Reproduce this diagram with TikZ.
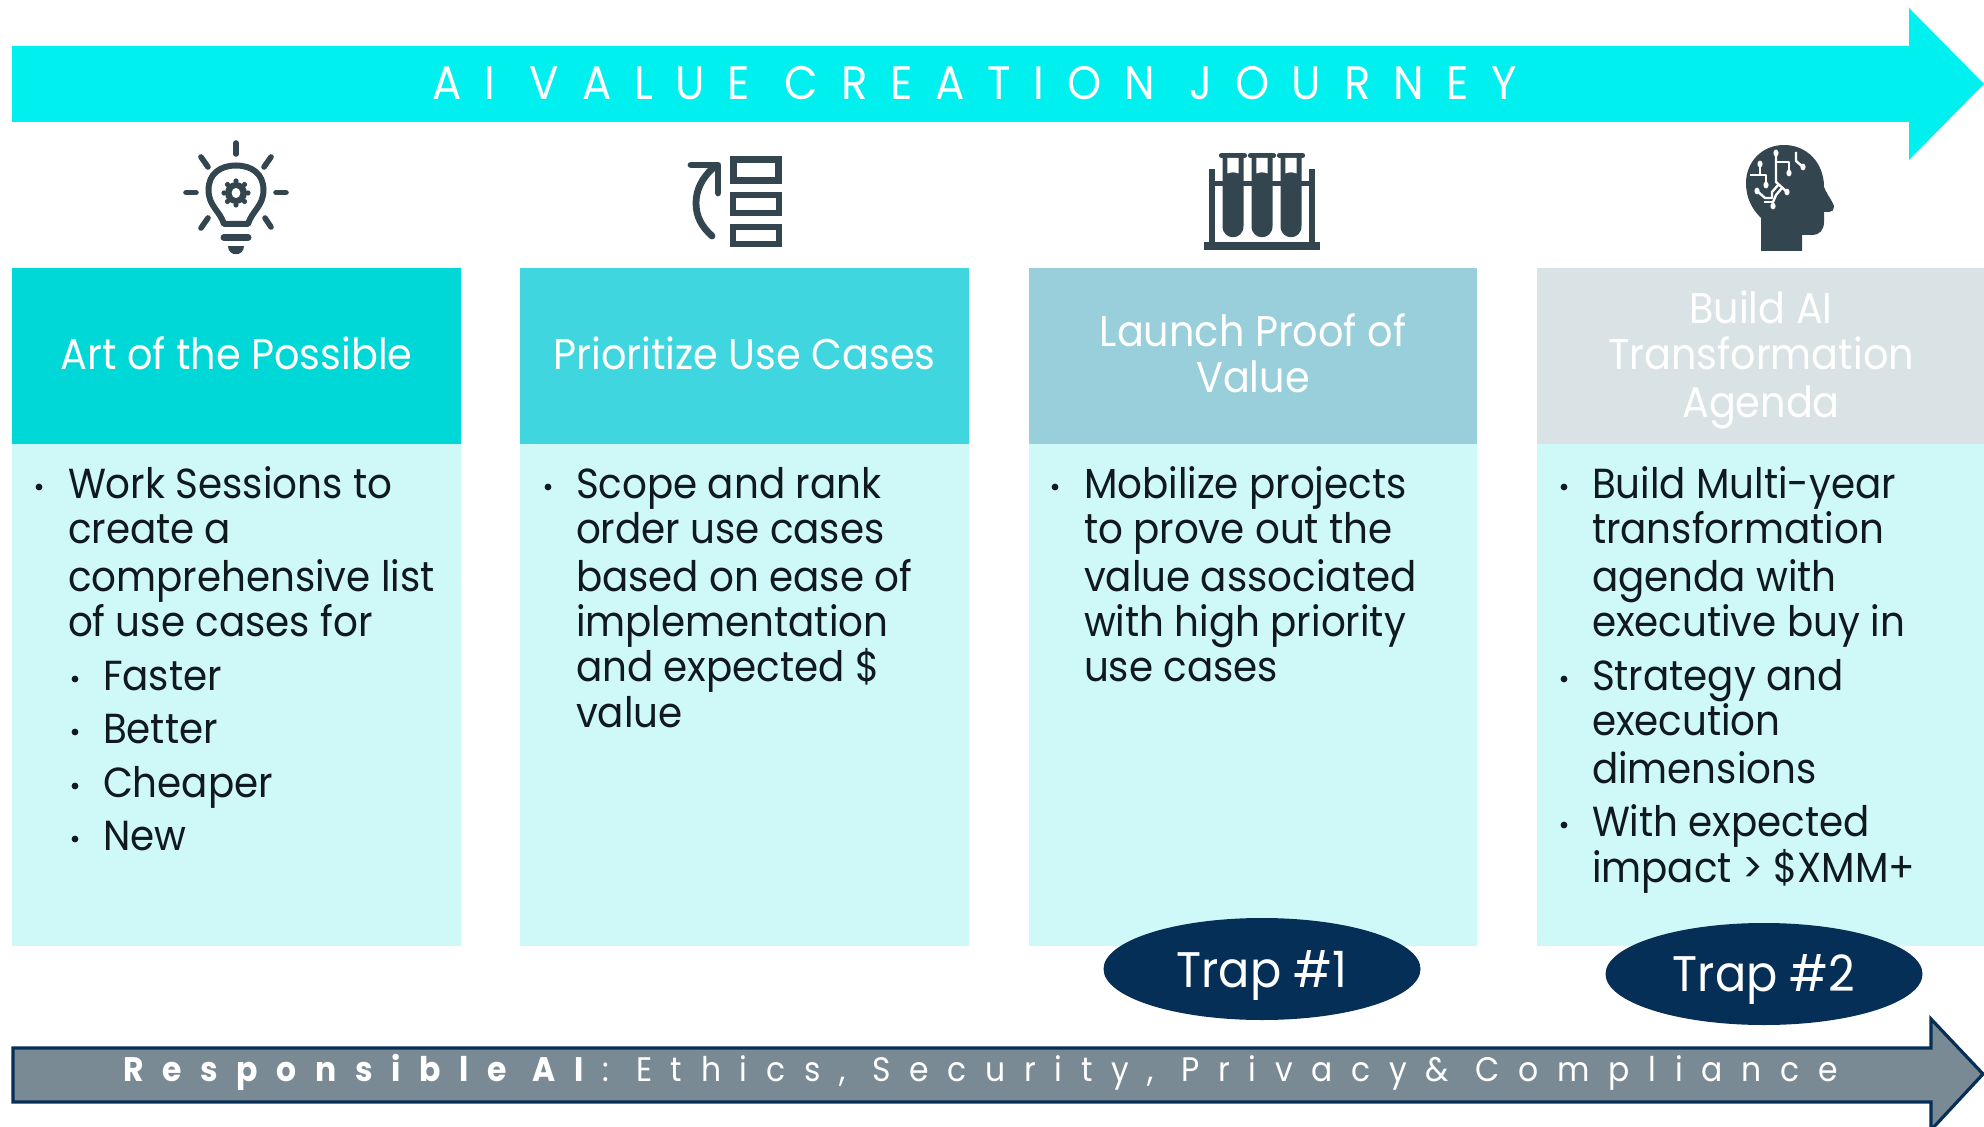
\documentclass[tikz,border=0pt]{standalone}
\usepackage{fontspec}
\setmainfont[FakeStretch=0.925]{Poppins}
\newcommand{\bodysize}{\fontsize{21}{22}\selectfont}
\newcommand{\headsize}{\fontsize{21.5}{22}\selectfont}
\definecolor{banner}{HTML}{00F0F0}
\definecolor{headA}{HTML}{00D7D7}
\definecolor{headB}{HTML}{40D6E0}
\definecolor{headC}{HTML}{98CFDA}
\definecolor{headD}{HTML}{D9E2E4}
\definecolor{bodyfill}{HTML}{CFF8F8}
\definecolor{icon}{HTML}{33454F}
\definecolor{navy}{HTML}{062F57}
\definecolor{slate}{HTML}{7A8A94}
\definecolor{ink}{HTML}{101820}
\tikzset{
  x=0.5pt,y=-0.5pt,
  txt/.style={anchor=base west,inner sep=0pt,outer sep=0pt,text=ink,font=\bodysize},
  hd/.style={anchor=base,inner sep=0pt,outer sep=0pt,text=white,font=\headsize},
  ic/.style={draw=icon,line cap=round,line join=round},
  wire/.style={draw=white,line width=1.2pt,line join=round},
}
\newcommand{\bul}[2]{\fill[ink] (#1,#2) circle[radius=3.4];}
\newcommand{\tl}[4]{\node[txt] (#1) at (#2,#3+1) {#4};}
\newcommand{\wdot}[2]{\fill[white] (#1,#2) ellipse[x radius=2.6,y radius=3.4];}
\begin{document}
\begin{tikzpicture}
\useasboundingbox (0,0) rectangle (1984,1127);
\clip (0,0) rectangle (1984,1127);
\fill[white] (0,0) rectangle (1984,1127);
% top arrow
\fill[banner] (12,46) -- (1909,46) -- (1909,8) -- (1984,84) -- (1909,160) -- (1909,122) -- (12,122) -- cycle;
\node[anchor=base,inner sep=0pt,text=white,font=\fontsize{23.5}{24}\selectfont\addfontfeature{LetterSpace=48.5}] (title) at (975,100) {AI VALUE CREATION JOURNEY};
% columns
\fill[bodyfill] (12,444) rectangle (461,946);
\fill[bodyfill] (520,444) rectangle (969,946);
\fill[bodyfill] (1029,444) rectangle (1477,946);
\fill[bodyfill] (1537,444) rectangle (1984,946);
\fill[headA] (12,268) rectangle (461,444);
\fill[headB] (520,268) rectangle (969,444);
\fill[headC] (1029,268) rectangle (1477,444);
\fill[headD] (1537,268) rectangle (1984,444);
% headers
\node[hd] (h1) at (236.5,370) {Art of the Possible};
\node[hd] (h2) at (744.5,370) {Prioritize Use Cases};
\node[hd] (h3a) at (1253,347) {Launch Proof of};
\node[hd] (h3b) at (1253,393) {Value};
\node[hd] (h4a) at (1761,324) {Build AI};
\node[hd] (h4b) at (1761,370) {Transformation};
\node[hd] (h4c) at (1761,418) {Agenda};
% column 1
\bul{39}{487}
\tl{a1}{68}{498}{Work Sessions to}
\tl{a2}{68}{543}{create a}
\tl{a3}{68}{590}{comprehensive list}
\tl{a4}{68}{635}{of use cases for}
\bul{75}{679}\tl{a5}{103}{689}{Faster}
\bul{75}{732}\tl{a6}{103}{742}{Better}
\bul{75}{786}\tl{a7}{103}{796}{Cheaper}
\bul{75}{839}\tl{a8}{103}{849}{New}
% column 2
\bul{548}{487}
\tl{b1}{576}{498}{Scope and rank}
\tl{b2}{576}{543}{order use cases}
\tl{b3}{576}{590}{based on ease of}
\tl{b4}{576}{635}{implementation}
\tl{b5}{576}{680}{and expected \$}
\tl{b6}{576}{726}{value}
% column 3
\bul{1055}{487}
\tl{c1}{1084}{498}{Mobilize projects}
\tl{c2}{1084}{543}{to prove out the}
\tl{c3}{1084}{590}{value associated}
\tl{c4}{1084}{635}{with high priority}
\tl{c5}{1084}{680}{use cases}
% column 4
\bul{1564}{487}
\tl{d1}{1592}{498}{Build Multi-year}
\tl{d2}{1592}{543}{transformation}
\tl{d3}{1592}{590}{agenda with}
\tl{d4}{1592}{635}{executive buy in}
\bul{1564}{679}
\tl{d5}{1592}{689}{Strategy and}
\tl{d6}{1592}{734}{execution}
\tl{d7}{1592}{782}{dimensions}
\bul{1564}{825}
\tl{d8}{1592}{835}{With expected}
\tl{d9}{1592}{881}{impact > \$XMM+}
% traps
\fill[navy] (1262,969) ellipse[x radius=158.5,y radius=51];
\fill[navy] (1764,974) ellipse[x radius=158.5,y radius=51];
\node[anchor=base,inner sep=0pt,text=white,font=\fontsize{25}{26}\selectfont] (t1) at (1262,987) {Trap \#1};
\node[anchor=base,inner sep=0pt,text=white,font=\fontsize{25}{26}\selectfont] (t2) at (1764,991) {Trap \#2};
% bottom arrow
\draw[fill=slate,draw=navy,line width=1.6pt,line join=miter] (13,1048) -- (1931,1048) -- (1931,1019) -- (1983,1074) -- (1931,1130) -- (1931,1102) -- (13,1102) -- cycle;
\node[anchor=base,inner sep=0pt,text=white,font=\fontsize{17}{18}\selectfont\addfontfeature{LetterSpace=55}] (resp) at (980.5,1081) {\textbf{Responsible AI}: Ethics, Security, Privacy\& Compliance};
% --- icon 1 bulb
\foreach \a/\b/\c/\d in {236/143/236/154,186/192.5/196/192.5,276/192.5/286/192.5,201/157/208/167,271/157/264/167,201/228/208/218,271/227/265/218}
  \draw[ic,line width=2.8pt] (\a,\b) -- (\c,\d);
\draw[ic,line width=3pt] (224,224) .. controls (220,211) and (208.5,206) .. (208.5,190) .. controls (208.5,174) and (220,165.5) .. (236,165.5) .. controls (252,165.5) and (263.5,174) .. (263.5,190) .. controls (263.5,206) and (252,211) .. (248,224) -- cycle;
\draw[ic,line width=3.5pt] (224,237.5) -- (248,237.5);
\fill[icon] (228,246) -- (244,246) .. controls (244,257) and (228,257) .. (228,246) -- cycle;
\fill[icon] (236,193) circle[radius=11];
\foreach \r in {0,45,...,315}
  \fill[icon] (236,193) ++(\r:12) circle[radius=2.6];
\fill[white] (236,193) ellipse[x radius=4.4,y radius=5];
% --- icon 2 list
\draw[ic,line width=3.4pt] (691,165) -- (718,165) -- (718,193);
\draw[ic,line width=3.4pt] (713,168) .. controls (702,178) and (696,190) .. (696,203) .. controls (696,217) and (702,227) .. (712,236);
\draw[icon,line width=3.8pt] (733.5,159.5) rectangle (778.5,180.5);
\draw[icon,line width=3.2pt] (733,195) rectangle (779,213);
\draw[icon,line width=3.2pt] (733,227) rectangle (779,244);
% --- icon 3 tubes
\fill[icon] (1204,242) rectangle (1320,250);
\fill[icon] (1209,169) rectangle (1215,243);
\fill[icon] (1309,169) rectangle (1315,243);
\fill[icon] (1212,181) rectangle (1312,186);
\foreach \cx in {1233,1262,1291} {
  \draw[icon,line width=2.6pt,line cap=round] (\cx-11.5,155.5) -- (\cx+11.5,155.5);
  \fill[icon] (\cx-10.5,155) -- (\cx+10.5,155) -- (\cx+10.5,226) .. controls (\cx+10.5,241) and (\cx-10.5,241) .. (\cx-10.5,226) -- cycle;
  \fill[white] (\cx-5.7,158) -- (\cx+5.7,158) -- (\cx+5.7,173.5) .. controls (\cx+2,172) and (\cx-2,172) .. (\cx-5.7,173.5) -- cycle;
}
% --- icon 4 head
\fill[icon] (1761,251) -- (1761,218) .. controls (1751,208) and (1746,197) .. (1746,183) .. controls (1746,162) and (1762,145) .. (1784,145) .. controls (1807,145) and (1824,163) .. (1824,187) .. controls (1827,195) and (1834,203) .. (1834,207) .. controls (1834,210) and (1832,212) .. (1829,212) -- (1824,212) -- (1824,222) .. controls (1824,230) and (1819,235) .. (1813,235) -- (1802,235) -- (1802,251) -- cycle;
\draw[wire] (1776,153) -- (1776,182) -- (1787,192);
\draw[wire] (1776,162) -- (1789,162) -- (1789,173);
\draw[wire] (1779,184) -- (1772,192) -- (1772,198) -- (1765,198) -- (1757,191);
\draw[wire] (1773,206) -- (1773,202) -- (1764,202);
\draw[wire] (1773,202) -- (1776,195) -- (1782,188);
\draw[wire] (1760,164) -- (1760,175);
\draw[wire] (1750,175) -- (1766,175) -- (1766,185);
\draw[wire] (1796,152) -- (1796,161) -- (1803,167);
\wdot{1776}{153}\wdot{1787}{192}\wdot{1789}{173}\wdot{1757}{191}\wdot{1773}{206}\wdot{1760}{164}\wdot{1766}{185}\wdot{1803}{167}
\end{tikzpicture}
\end{document}
